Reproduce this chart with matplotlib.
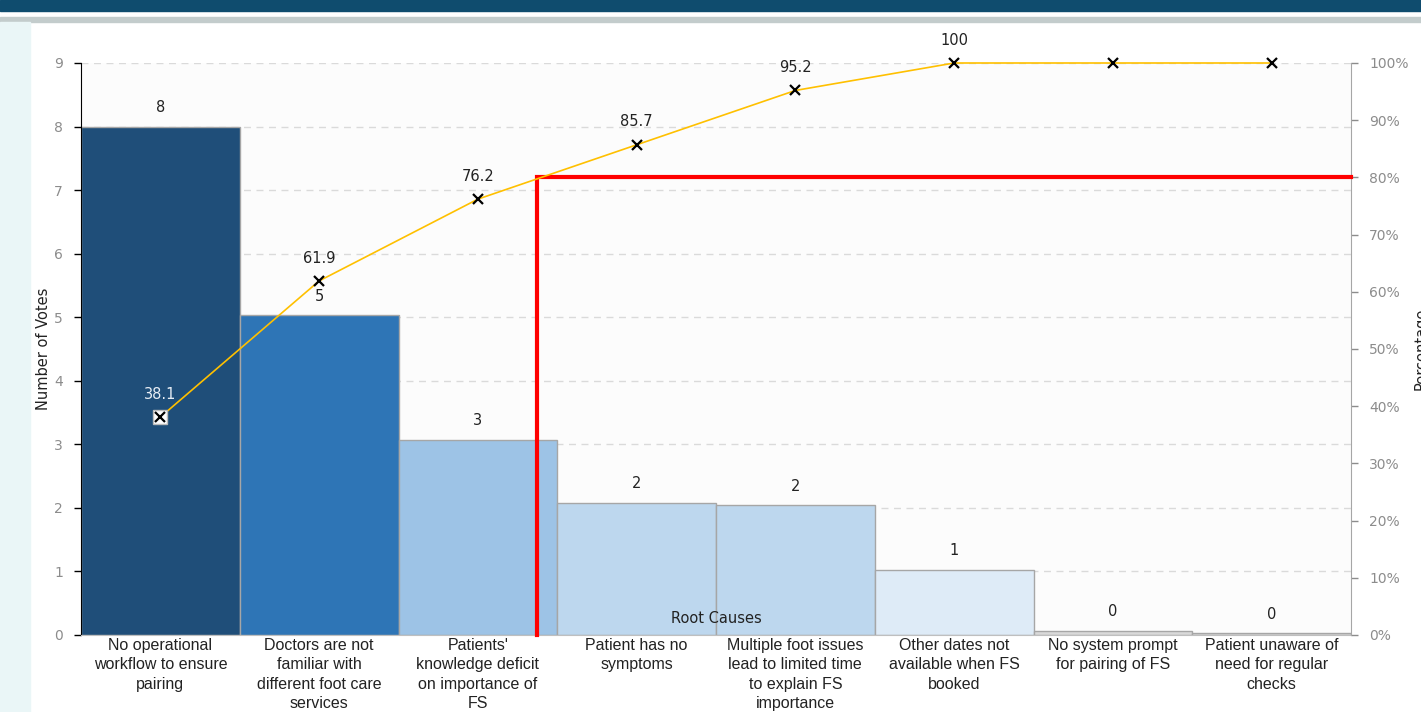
import matplotlib
matplotlib.use("Agg")
from matplotlib import pyplot as plt
from matplotlib.patches import Rectangle
from matplotlib.ticker import FuncFormatter

# root causes, sorted by votes
causes = ["No operational\nworkflow to ensure\npairing",
          "Doctors are not\nfamiliar with\ndifferent foot care\nservices",
          "Patients'\nknowledge deficit\non importance of\nFS",
          "Patient has no\nsymptoms",
          "Multiple foot issues\nlead to limited time\nto explain FS\nimportance",
          "Other dates not\navailable when FS\nbooked",
          "No system prompt\nfor pairing of FS",
          "Patient unaware of\nneed for regular\nchecks"]
votes = [8, 5, 3, 2, 2, 1, 0, 0]
# bar tops as they show in the picture (slightly above the labelled counts)
bar_tops = [8.0, 5.03, 3.07, 2.08, 2.04, 1.03, 0.07, 0.03]
cumulative = [38.1, 61.9, 76.2, 85.7, 95.2, 100, 100, 100]
bar_colors = ["#1f4e79", "#2e75b6", "#9dc3e6", "#bdd7ee", "#bdd7ee",
              "#deebf7", "#d9d9d9", "#d9d9d9"]
cutoff_x = 2.87   # where the 80% line drops down
cutoff_pct = 80

fig = plt.figure(figsize=(14.21, 7.12), dpi=100)
fig.patch.set_facecolor("white")

# page decoration: dark band on top, grey rule, light strip on the left
fig.patches.append(Rectangle((0, 1 - 11 / 712), 1, 11 / 712, transform=fig.transFigure,
                             color="#0f4c6e", zorder=0))
fig.patches.append(Rectangle((0, 1 - 22 / 712), 1, 5 / 712, transform=fig.transFigure,
                             color="#c3cccc", zorder=0))
fig.patches.append(Rectangle((0, 0), 30 / 1421, 1 - 22 / 712, transform=fig.transFigure,
                             color="#eaf6f7", zorder=0))

ax = fig.add_axes([81 / 1421, 1 - 635 / 712, 1270 / 1421, 572 / 712])
ax.set_facecolor("#fcfcfc")
xs = [i + 0.5 for i in range(len(votes))]

ax.bar(xs, bar_tops, width=1.0, color=bar_colors, edgecolor="#a6a6a6",
       linewidth=1, zorder=2)
for x, top, v in zip(xs, bar_tops, votes):
    ax.annotate(str(v), (x, top), xytext=(0, 13.7), textcoords="offset points",
                ha="center", va="center", fontsize=10.5, color="#222222",
                zorder=5)

ax.set_xlim(0, 8)
ax.set_ylim(0, 9)
ax.set_yticks(range(10))
ax.yaxis.grid(True, linestyle=(0, (5, 4)), color="#dadada", linewidth=1)
ax.set_axisbelow(True)
ax.set_xticks(xs)
ax.set_xticklabels(causes, family="Liberation Sans", fontsize=11.5, color="#222222",
                   linespacing=1.38)
ax.tick_params(axis="x", length=0, pad=2)
ax.tick_params(axis="y", colors="#8c8c8c", labelsize=10, length=5, width=1, pad=8)
ax.tick_params(axis="y", color="black")
for s in ["top", "right"]:
    ax.spines[s].set_visible(False)
ax.spines["left"].set_color("black")
ax.spines["bottom"].set_color("#bfbfbf")
ax.set_ylabel("Number of Votes", fontsize=10.5, color="#222222")
ax.yaxis.set_label_coords(-0.024, 0.5)
ax.text(0.5, 0.028, "Root Causes", transform=ax.transAxes, ha="center", va="center",
        fontsize=10.5, color="#222222", zorder=6)

ax2 = ax.twinx()
ax2.set_ylim(0, 100)
ax2.set_yticks(range(0, 101, 10))
ax2.yaxis.set_major_formatter(FuncFormatter(lambda v, p: "%d%%" % v))
ax2.tick_params(axis="y", colors="#8c8c8c", labelsize=10, length=5, width=1, pad=8)
for s in ["top", "left", "bottom"]:
    ax2.spines[s].set_visible(False)
ax2.spines["right"].set_color("#a6a6a6")
ax2.set_ylabel("Percentage", fontsize=10.5, color="#222222", rotation=90)
ax2.yaxis.set_label_coords(1.049, 0.5)

ax2.plot([cutoff_x, cutoff_x, 8], [0, cutoff_pct, cutoff_pct], color="#ff0000",
         linewidth=3, zorder=3, solid_joinstyle="miter", clip_on=False)
ax2.plot(xs, cumulative, color="#ffc000", linewidth=1.2, zorder=4, clip_on=False)
ax2.plot(xs[0], cumulative[0], marker="s", markersize=10, color="white",
         markeredgecolor="#bbbbbb", zorder=4)
ax2.plot(xs, cumulative, linestyle="none", marker="x", markersize=7,
         markeredgewidth=1.6, color="black", zorder=5, clip_on=False)
# only the first point reaching 100% carries a label
last = cumulative.index(100)
for i, (x, c) in enumerate(zip(xs[:last + 1], cumulative[:last + 1])):
    ax2.annotate("%g" % c, (x, c), xytext=(0, 16.5), textcoords="offset points",
                 ha="center", va="center", fontsize=10.5,
                 color="#e8eef5" if i == 0 else "#222222", zorder=6,
                 annotation_clip=False)

fig.savefig("out.png", dpi=100)
